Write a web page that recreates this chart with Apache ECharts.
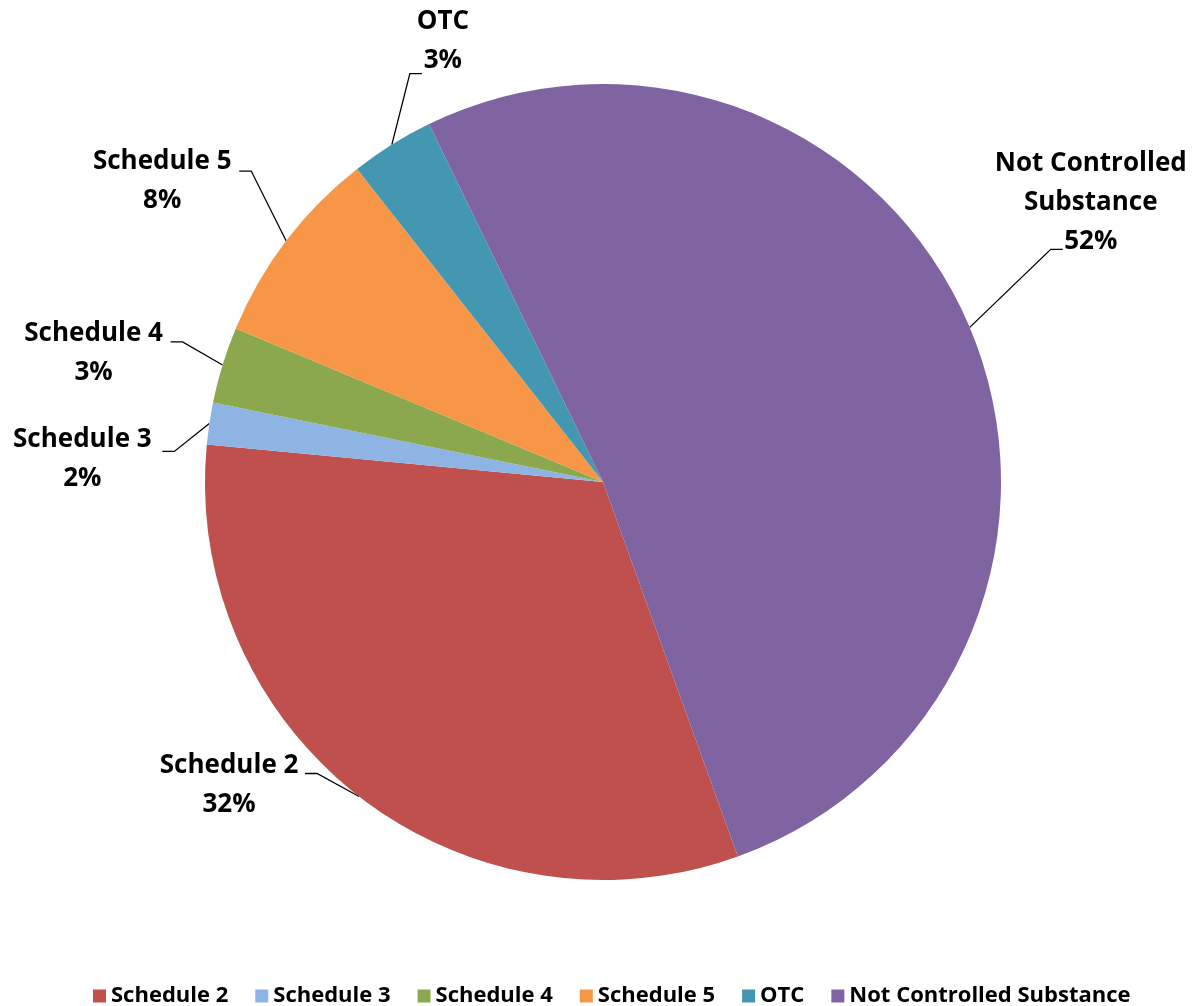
<!DOCTYPE html>
<html>
<head>
<meta charset="utf-8">
<script src="https://cdn.jsdelivr.net/npm/echarts@6/dist/echarts.min.js"></script>
<style>
html,body{margin:0;padding:0;background:#fff;}
#main{width:1203px;height:1006px;}
</style>
</head>
<body>
<div id="main"></div>
<script>
// ---- data ----
const categories = ['Schedule 2', 'Schedule 3', 'Schedule 4', 'Schedule 5', 'OTC', 'Not Controlled Substance'];
const values = [32.0, 1.7, 3.1, 8.1, 3.4, 51.7];
const labelNames = ['Schedule 2', 'Schedule 3', 'Schedule 4', 'Schedule 5', 'OTC', 'Not Controlled\nSubstance'];

// ---- styles ----
const colors = ['#C0504D', '#8EB4E3', '#8CA84F', '#F79646', '#4397B0', '#8064A2'];
// label placement relative to the slice's outer-edge anchor (from the library):
// [text centre dx, dy, leader end dx, dy]
const labelPlacement = [
  [-130, -11, -54, -23],
  [-127, 36, -47, 28],
  [-129, -12, -52, -23],
  [-124, -60, -47, -70],
  [51, -104, 30, -71],
  [121, -125, 93, -78]
];
const ELBOW = 12;

const chart = echarts.init(document.getElementById('main'));
const FONT = '"Open Sans", "Liberation Sans", sans-serif';
chart.setOption({
  animation: false,
  color: colors,
  legend: {
    top: 980,
    left: 88,
    itemWidth: 13,
    itemHeight: 13,
    itemGap: 27,
    icon: 'rect',
    textStyle: { fontFamily: FONT, fontWeight: 'bold', fontSize: 22, color: '#000' },
    data: categories
  },
  series: [{
    type: 'pie',
    center: [603, 482],
    radius: 398,
    startAngle: -70.2,
    clockwise: true,
    percentPrecision: 0,
    avoidLabelOverlap: false,
    data: categories.map((c, i) => ({ name: c, value: values[i] })),
    label: {
      show: true,
      position: 'outside',
      formatter: p => labelNames[p.dataIndex] + '\n' + p.percent + '%',
      fontFamily: FONT,
      fontWeight: 'bold',
      fontSize: 26,
      lineHeight: 39,
      color: '#000',
      align: 'center'
    },
    labelLine: {
      show: true,
      length: 20,
      length2: 10,
      lineStyle: { color: '#000', width: 1.3 }
    },
    labelLayout: function (params) {
      const pl = labelPlacement[params.dataIndex];
      const p0 = params.labelLinePoints[0];
      const endX = p0[0] + pl[2];
      const endY = p0[1] + pl[3];
      const elbowX = endX + (pl[2] < 0 ? ELBOW : -ELBOW);
      return {
        x: p0[0] + pl[0],
        y: p0[1] + pl[1],
        align: 'center',
        verticalAlign: 'middle',
        labelLinePoints: [[p0[0], p0[1]], [elbowX, endY], [endX, endY]]
      };
    },
    itemStyle: { borderWidth: 0 },
    emphasis: { disabled: true }
  }]
});
</script>
</body>
</html>
